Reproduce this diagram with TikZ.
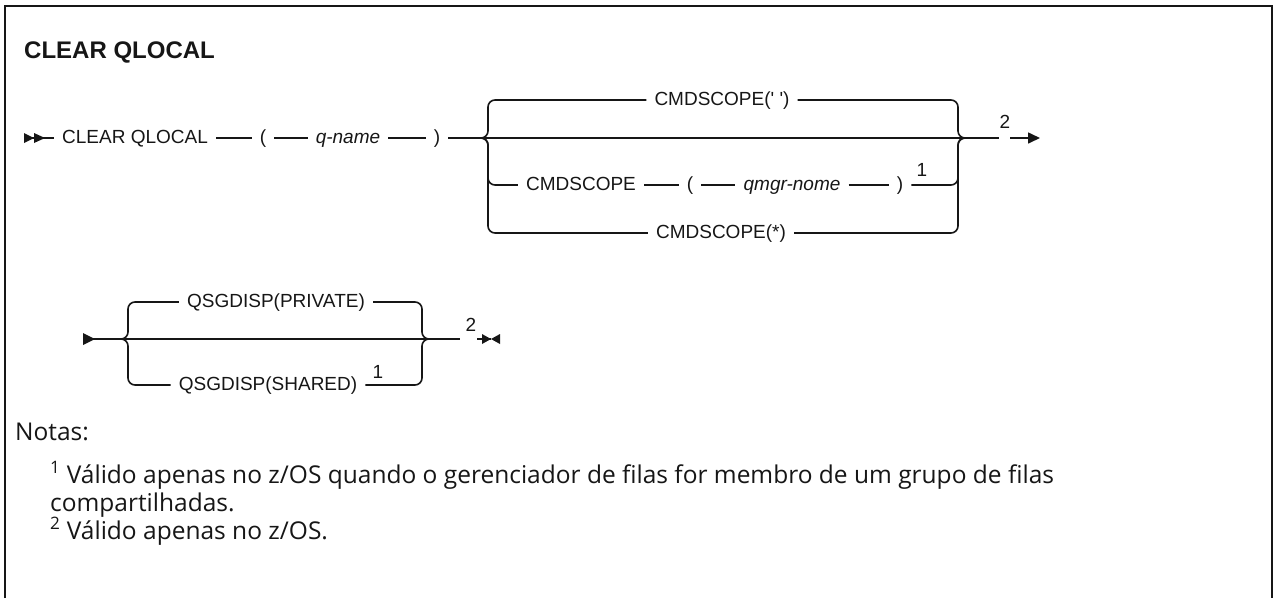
\documentclass[tikz,border=0pt]{standalone}
\usepackage{fontspec}
\setmainfont{Liberation Sans}
\newfontfamily\notefont{Open Sans}
\usepackage{xcolor}
\usetikzlibrary{arrows.meta}
\definecolor{railink}{HTML}{161616}

\begin{document}
\begin{tikzpicture}[
  x=1pt,
  y=-1pt,
  every node/.style={font=\fontsize{19}{23}\selectfont, text=railink, inner sep=0pt},
  item/.style={inner xsep=8pt, text height=14pt, text depth=4pt},
  var/.style={item, font=\fontsize{19}{23}\selectfont\itshape},
  rail/.style={railink, line width=1.6pt},
  branch/.style={rail, rounded corners=7pt},
  note/.style={anchor=base west, font=\notefont\fontsize{24.5}{29}\selectfont}
]
  \useasboundingbox (0,0) rectangle (1273,598);
  \draw[railink, line width=2.2pt] (5,598) -- (5,6) -- (1272,6) -- (1272,598);

  \node[anchor=west, font=\fontsize{24}{28}\selectfont\bfseries] (title) at (24,52) {CLEAR QLOCAL};

  % first rail
  \coordinate (start) at (24,138);
  \node[item] (clear) at (135,138) {CLEAR QLOCAL};
  \node[item] (lp) at (263,138) {(};
  \node[var] (qname) at (348,138) {q-name};
  \node[item] (rp) at (437,138) {)};
  \coordinate (lb) at (478,138);
  \coordinate (lcol) at (488,0);
  \coordinate (rcol) at (958,0);
  \coordinate (rb) at (968,138);

  \fill[railink] ([yshift=5]start) -- ([xshift=10]start) -- ([yshift=-5]start) -- cycle;
  \fill[railink] ([xshift=10,yshift=5]start) -- ([xshift=21]start) -- ([xshift=10,yshift=-5]start) -- cycle;
  \draw[rail] (start) -- (clear);
  \draw[rail] (clear) -- (lp);
  \draw[rail] (lp) -- (qname);
  \draw[rail] (qname) -- (rp);
  \draw[rail] (rp) -- (rb);

  \node[item] (dflt) at (722,100) {CMDSCOPE(\textquotesingle\ \textquotesingle)};
  \node[item] (cmd) at (581,185) {CMDSCOPE};
  \node[item] (lp2) at (690,185) {(};
  \node[var] (qmgr) at (792,185) {qmgr-nome};
  \node[item] (rp2) at (900,185) {)};
  \node (fn1) at (922,170) {1};
  \node[item] (star) at (721,233) {CMDSCOPE(*)};

  \draw[branch] (lb) -| (lcol |- dflt) -- (dflt);
  \draw[branch] (dflt) -| (rcol |- rb) -- (rb);
  \draw[branch] (lb) -| (lcol |- cmd) -- (cmd);
  \draw[rail] (cmd) -- (lp2);
  \draw[rail] (lp2) -- (qmgr);
  \draw[rail] (qmgr) -- (rp2);
  \draw[branch] (rp2) -| (rcol |- rb) -- (rb);
  \draw[branch] (lb) -| (lcol |- star) -- (star);
  \draw[branch] (star) -| (rcol |- rb) -- (rb);

  \coordinate (g1) at (999,138);
  \node (fn2) at (1005,122) {2};
  \coordinate (g2) at (1010,138);
  \coordinate (stop) at (1040,138);
  \draw[rail] (rb) -- (g1);
  \draw[rail, -{Triangle[length=12pt,width=11pt]}] (g2) -- (stop);

  % second rail
  \coordinate (start2) at (83,339);
  \coordinate (lb2) at (118,339);
  \coordinate (lcol2) at (128,0);
  \coordinate (rcol2) at (422,0);
  \coordinate (rb2) at (432,339);
  \coordinate (g3) at (460,339);
  \node[item] (priv) at (276,302) {QSGDISP(PRIVATE)};
  \node[item] (shr) at (268,385) {QSGDISP(SHARED)};
  \node (fn3) at (378,372) {1};

  \fill[railink] ([yshift=6]start2) -- ([xshift=12]start2) -- ([yshift=-6]start2) -- cycle;
  \draw[rail] (start2) -- (g3);
  \draw[branch] (lb2) -| (lcol2 |- priv) -- (priv);
  \draw[branch] (priv) -| (rcol2 |- rb2) -- (rb2);
  \draw[branch] (lb2) -| (lcol2 |- shr) -- (shr);
  \draw[branch] (shr) -| (rcol2 |- rb2) -- (rb2);

  \node (fn4) at (471,325) {2};
  \coordinate (g4) at (477,339);
  \coordinate (stop2) at (491,339);
  \draw[rail] (g4) -- (stop2);
  \fill[railink] (482,334) -- (stop2) -- (482,344) -- cycle;
  \fill[railink] (500,334) -- (stop2) -- (500,344) -- cycle;

  % notes
  \node[note] (notas) at (15,440) {Notas:};
  \node[note] (note1) at (50,483) {\textsuperscript{1} Válido apenas no z/OS quando o gerenciador de filas for membro de um grupo de filas};
  \node[note] (note1b) at (50,511) {compartilhadas.};
  \node[note] (note2) at (50,539) {\textsuperscript{2} Válido apenas no z/OS.};
\end{tikzpicture}
\end{document}
